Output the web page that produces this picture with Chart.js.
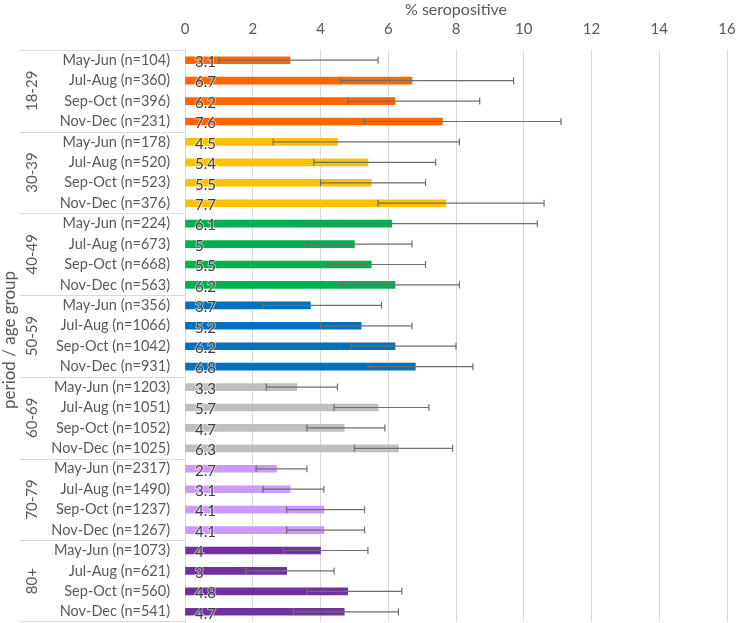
<!DOCTYPE html>
<html>
<head>
<meta charset="utf-8">
<script src="https://cdn.jsdelivr.net/npm/chart.js@4.4.0/dist/chart.umd.min.js"></script>
<style>
  body { margin: 0; background: #fff; }
  #wrap { width: 738px; height: 623px; position: relative; }
</style>
</head>
<body>
<div id="wrap"><canvas id="chart"></canvas></div>
<script>
const ageGroups = ['18-29', '30-39', '40-49', '50-59', '60-69', '70-79', '80+'];
const periods = [
  'May-Jun (n=104)', 'Jul-Aug (n=360)', 'Sep-Oct (n=396)', 'Nov-Dec (n=231)',
  'May-Jun (n=178)', 'Jul-Aug (n=520)', 'Sep-Oct (n=523)', 'Nov-Dec (n=376)',
  'May-Jun (n=224)', 'Jul-Aug (n=673)', 'Sep-Oct (n=668)', 'Nov-Dec (n=563)',
  'May-Jun (n=356)', 'Jul-Aug (n=1066)', 'Sep-Oct (n=1042)', 'Nov-Dec (n=931)',
  'May-Jun (n=1203)', 'Jul-Aug (n=1051)', 'Sep-Oct (n=1052)', 'Nov-Dec (n=1025)',
  'May-Jun (n=2317)', 'Jul-Aug (n=1490)', 'Sep-Oct (n=1237)', 'Nov-Dec (n=1267)',
  'May-Jun (n=1073)', 'Jul-Aug (n=621)', 'Sep-Oct (n=560)', 'Nov-Dec (n=541)'
];
const values = [
  3.1, 6.7, 6.2, 7.6,
  4.5, 5.4, 5.5, 7.7,
  6.1, 5, 5.5, 6.2,
  3.7, 5.2, 6.2, 6.8,
  3.3, 5.7, 4.7, 6.3,
  2.7, 3.1, 4.1, 4.1,
  4, 3, 4.8, 4.7
];
const lower = [
  1.0, 4.6, 4.8, 5.3,
  2.6, 3.8, 4.0, 5.7,
  3.5, 3.6, 4.2, 4.6,
  2.3, 4.0, 4.9, 5.4,
  2.4, 4.4, 3.6, 5.0,
  2.1, 2.3, 3.0, 3.0,
  2.9, 1.8, 3.6, 3.2
];
const upper = [
  5.7, 9.7, 8.7, 11.1,
  8.1, 7.4, 7.1, 10.6,
  10.4, 6.7, 7.1, 8.1,
  5.8, 6.7, 8.0, 8.5,
  4.5, 7.2, 5.9, 7.9,
  3.6, 4.1, 5.3, 5.3,
  5.4, 4.4, 6.4, 6.3
];
const xTicks = [0, 2, 4, 6, 8, 10, 12, 14, 16];

const groupColors = ['#FF6600', '#FFC000', '#00B050', '#0070C0', '#BFBFBF', '#CC99FF', '#7030A0'];
const perGroup = 4;
const FONT = 'Lato, "Open Sans", sans-serif';
const TEXT = '#595959';
const LINE = '#D9D9D9';

const extras = {
  id: 'extras',
  afterDatasetsDraw(chart) {
    const ctx = chart.ctx;
    const x = chart.scales.x;
    const meta = chart.getDatasetMeta(0);
    ctx.save();
    // error bars
    ctx.strokeStyle = '#6F6F6F';
    ctx.lineWidth = 1.2;
    meta.data.forEach((bar, i) => {
      const y = bar.y;
      const x1 = x.getPixelForValue(lower[i]);
      const x2 = x.getPixelForValue(upper[i]);
      ctx.beginPath();
      ctx.moveTo(x1, y); ctx.lineTo(x2, y);
      ctx.moveTo(x1, y - 3.5); ctx.lineTo(x1, y + 3.5);
      ctx.moveTo(x2, y - 3.5); ctx.lineTo(x2, y + 3.5);
      ctx.stroke();
    });
    // value labels
    ctx.font = '15px ' + FONT;
    ctx.textAlign = 'left';
    ctx.textBaseline = 'middle';
    meta.data.forEach((bar, i) => {
      const px = x.getPixelForValue(0) + 10;
      ctx.lineWidth = 2;
      ctx.strokeStyle = 'rgba(255,255,255,0.55)';
      ctx.strokeText(String(values[i]), px, bar.y + 2);
      ctx.fillStyle = '#404040';
      ctx.fillText(String(values[i]), px, bar.y + 2);
    });
    ctx.restore();
  },
  afterDraw(chart) {
    const ctx = chart.ctx;
    const y = chart.scales.y;
    const area = chart.chartArea;
    const band = (y.getPixelForValue(1) - y.getPixelForValue(0));
    ctx.save();
    ctx.strokeStyle = LINE;
    ctx.lineWidth = 1;
    ctx.fillStyle = TEXT;
    ctx.font = '15px ' + FONT;
    ctx.textAlign = 'center';
    ctx.textBaseline = 'middle';
    ageGroups.forEach((g, k) => {
      const top = y.getPixelForValue(k * perGroup) - band / 2;
      const bottom = y.getPixelForValue(k * perGroup + perGroup - 1) + band / 2;
      ctx.beginPath();
      ctx.moveTo(20, Math.round(top) + 0.5);
      ctx.lineTo(area.left, Math.round(top) + 0.5);
      ctx.stroke();
      if (k === ageGroups.length - 1) {
        ctx.beginPath();
        ctx.moveTo(20, Math.round(bottom) - 0.5);
        ctx.lineTo(area.left, Math.round(bottom) - 0.5);
        ctx.stroke();
      }
      ctx.save();
      ctx.translate(32, (top + bottom) / 2);
      ctx.rotate(-Math.PI / 2);
      ctx.fillText(g, 0, 0);
      ctx.restore();
    });
    // y axis title
    ctx.font = '17px ' + FONT;
    ctx.save();
    ctx.translate(10, 340);
    ctx.rotate(-Math.PI / 2);
    ctx.fillText('period / age group', 0, 0);
    ctx.restore();
    ctx.restore();
  }
};

new Chart(document.getElementById('chart'), {
  type: 'bar',
  data: {
    labels: periods,
    datasets: [{
      data: values,
      backgroundColor: values.map((v, i) => groupColors[Math.floor(i / perGroup)]),
      barThickness: 7,
      borderWidth: 0
    }]
  },
  options: {
    indexAxis: 'y',
    responsive: true,
    maintainAspectRatio: false,
    animation: false,
    layout: { padding: { left: 0, right: 11, top: 0, bottom: 1 } },
    plugins: {
      legend: { display: false },
      tooltip: { enabled: false }
    },
    scales: {
      x: {
        position: 'top',
        min: 0,
        max: 16,
        afterBuildTicks(scale) { scale.ticks = xTicks.map(v => ({ value: v })); },
        afterFit(scale) {
          scale.height = 50;
          scale.paddingLeft = 0;
          scale.paddingRight = 0;
        },
        grid: { color: LINE, drawTicks: false },
        border: { display: false },
        ticks: { color: TEXT, font: { family: FONT, size: 15 }, padding: 12 },
        title: {
          display: true,
          text: '% seropositive',
          color: TEXT,
          font: { family: FONT, size: 16 },
          padding: { top: 0, bottom: 0 }
        }
      },
      y: {
        afterFit(scale) {
          scale.width = 185;
          scale.paddingTop = 0;
          scale.paddingBottom = 0;
        },
        grid: { display: false, drawTicks: false },
        border: { display: true, color: LINE },
        ticks: { color: TEXT, font: { family: FONT, size: 14.5 }, padding: 15, autoSkip: false }
      }
    }
  },
  plugins: [extras]
});
</script>
</body>
</html>
